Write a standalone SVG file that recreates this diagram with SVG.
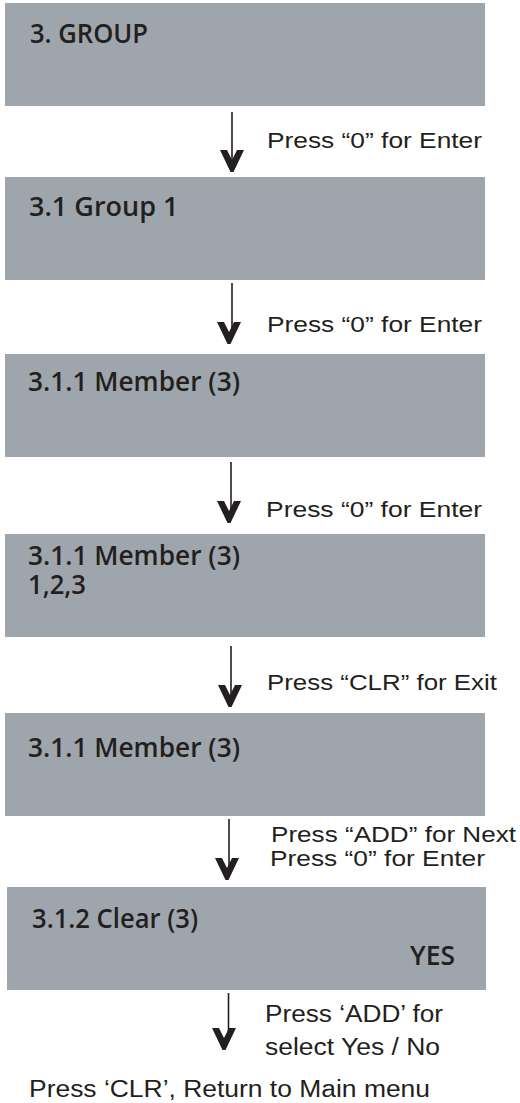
<svg xmlns="http://www.w3.org/2000/svg" xmlns:xlink="http://www.w3.org/1999/xlink" width="520" height="1103" viewBox="0 0 520 1103">
<style>
.box{fill:#9fa5ac}
.h{font-family:"Open Sans","Noto Sans",sans-serif;font-weight:600;font-size:27px;fill:#231f20}
.l{font-family:"Liberation Sans",Arial,sans-serif;font-size:22px;fill:#231f20}
.l2{font-family:"Liberation Sans",Arial,sans-serif;font-size:23px;fill:#231f20}
.ln{stroke:#231f20;stroke-width:1.6;fill:none}
</style>
<defs>
<path id="v" d="M-12,-22 L-5,-22 L0,-12 L5,-22 L12,-22 L1.5,0 L-1.5,0 Z" fill="#231f20"/>
</defs>
<rect width="520" height="1103" fill="#fff"/>
<g id="n1"><rect class="box" x="5" y="3" width="480" height="103"/><text class="h" x="30" y="43" textLength="118" lengthAdjust="spacingAndGlyphs">3. GROUP</text></g>
<g id="n2"><rect class="box" x="5" y="177" width="480" height="103"/><text class="h" x="29" y="216">3.1 Group 1</text></g>
<g id="n3"><rect class="box" x="5" y="354" width="480" height="103"/><text class="h" x="28" y="391" textLength="212" lengthAdjust="spacingAndGlyphs">3.1.1 Member (3)</text></g>
<g id="n4"><rect class="box" x="5" y="534" width="480" height="103"/><text class="h" x="28" y="565" textLength="212" lengthAdjust="spacingAndGlyphs">3.1.1 Member (3)</text><text class="h" x="28" y="594" textLength="58" lengthAdjust="spacingAndGlyphs">1,2,3</text></g>
<g id="n5"><rect class="box" x="5" y="713" width="480" height="103"/><text class="h" x="28" y="757" textLength="212" lengthAdjust="spacingAndGlyphs">3.1.1 Member (3)</text></g>
<g id="n6"><rect class="box" x="7" y="887" width="479" height="103"/><text class="h" x="32" y="928" textLength="166" lengthAdjust="spacingAndGlyphs">3.1.2 Clear (3)</text><text class="h" x="410" y="965" textLength="45" lengthAdjust="spacingAndGlyphs">YES</text></g>
<g id="connectors">
<line class="ln" x1="232" y1="112" x2="232" y2="162"/><use xlink:href="#v" x="232" y="172"/>
<line class="ln" x1="232" y1="283" x2="232" y2="334"/><use xlink:href="#v" x="229" y="344"/>
<line class="ln" x1="231" y1="462" x2="231" y2="513"/><use xlink:href="#v" x="229" y="523"/>
<line class="ln" x1="231" y1="646" x2="231" y2="697"/><use xlink:href="#v" x="230" y="707"/>
<line class="ln" x1="229" y1="819" x2="229" y2="870"/><use xlink:href="#v" x="227" y="880"/>
<line class="ln" x1="228.5" y1="993" x2="228.5" y2="1040"/><use xlink:href="#v" x="224" y="1050"/>
</g>
<g id="labels">
<text class="l" x="267" y="148" textLength="215" lengthAdjust="spacingAndGlyphs">Press “0” for Enter</text>
<text class="l" x="267" y="332" textLength="215" lengthAdjust="spacingAndGlyphs">Press “0” for Enter</text>
<text class="l" x="266" y="517" textLength="216" lengthAdjust="spacingAndGlyphs">Press “0” for Enter</text>
<text class="l" x="267" y="690" textLength="230" lengthAdjust="spacingAndGlyphs">Press “CLR” for Exit</text>
<text class="l" x="271" y="842" textLength="245" lengthAdjust="spacingAndGlyphs">Press “ADD” for Next</text>
<text class="l" x="270" y="866" textLength="215" lengthAdjust="spacingAndGlyphs">Press “0” for Enter</text>
<text class="l2" x="265" y="1022" textLength="178" lengthAdjust="spacingAndGlyphs">Press ‘ADD’ for</text>
<text class="l2" x="265" y="1055" textLength="175" lengthAdjust="spacingAndGlyphs">select Yes / No</text>
<text class="l2" x="29" y="1097" textLength="401" lengthAdjust="spacingAndGlyphs">Press ‘CLR’, Return to Main menu</text>
</g>
</svg>
